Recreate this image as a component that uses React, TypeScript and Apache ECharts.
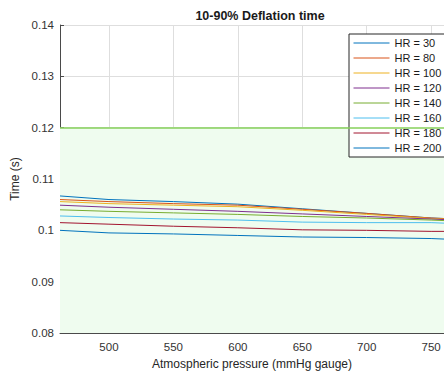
import React, { useEffect, useRef } from "react";
import * as echarts from "echarts";

// Atmospheric pressure samples (mmHg gauge)
const pressure = [462, 500, 550, 600, 650, 700, 750, 760];

// 10-90% deflation time (s) per heart rate
const hr30 = [0.1067, 0.106, 0.1056, 0.1051, 0.1042, 0.1033, 0.1024, 0.1023];
const hr80 = [0.106, 0.1056, 0.1052, 0.1049, 0.1041, 0.1033, 0.1024, 0.1023];
const hr100 = [0.1056, 0.1052, 0.1049, 0.1046, 0.1039, 0.1031, 0.1023, 0.1022];
const hr120 = [0.1049, 0.1045, 0.1041, 0.1037, 0.1032, 0.1027, 0.1022, 0.1021];
const hr140 = [0.104, 0.1037, 0.1034, 0.1031, 0.1027, 0.1024, 0.102, 0.1019];
const hr160 = [0.1028, 0.1025, 0.1022, 0.102, 0.1016, 0.1015, 0.1015, 0.1014];
const hr180 = [0.1015, 0.1012, 0.1008, 0.1005, 0.1001, 0.1, 0.0998, 0.0998];
const hr200 = [0.1, 0.0995, 0.0993, 0.099, 0.0987, 0.0986, 0.0984, 0.0983];

const seriesNames = ["HR = 30", "HR = 80", "HR = 100", "HR = 120", "HR = 140", "HR = 160", "HR = 180", "HR = 200"];
const seriesValues = [hr30, hr80, hr100, hr120, hr140, hr160, hr180, hr200];
const seriesColors = ["#0072BD", "#D95319", "#EDB120", "#7E2F8E", "#77AC30", "#4DBEEE", "#A2142F", "#0072BD"];

// Acceptable band limit
const limit = 0.12;
const yMin = 0.08;
const yMax = 0.14;

const FONT = "'Liberation Sans', Arial, Helvetica, sans-serif";

export default function App() {
  const ref = useRef<HTMLDivElement>(null);

  useEffect(() => {
    if (!ref.current) return;
    const chart = echarts.init(ref.current, null, { renderer: "svg" });

    const lines = seriesNames.map((name, i) => ({
      name,
      type: "line",
      data: pressure.map((p, j) => [p, seriesValues[i][j]]),
      symbol: "none",
      lineStyle: { width: 1, color: seriesColors[i] },
      itemStyle: { color: seriesColors[i] },
      z: 3,
    }));

    const band = {
      name: "band",
      type: "line",
      data: [],
      silent: true,
      z: 1,
      markArea: {
        silent: true,
        itemStyle: { color: "#effcef" },
        data: [[{ yAxis: yMin }, { yAxis: limit }]],
      },
      markLine: {
        silent: true,
        symbol: "none",
        label: { show: false },
        lineStyle: { color: "#86d05a", width: 1.5, type: "solid" },
        data: [{ yAxis: limit }],
      },
    };

    chart.setOption({
      animation: false,
      textStyle: { fontFamily: FONT },
      title: {
        text: "10-90% Deflation time",
        left: 255,
        top: 4,
        textAlign: "center",
        textStyle: { fontSize: 12.5, fontWeight: "bold", color: "#1a1a1a", fontFamily: FONT },
      },
      grid: { left: 60, top: 25, width: 391, height: 308 },
      legend: {
        data: seriesNames,
        orient: "vertical",
        left: 349,
        top: 34,
        itemWidth: 36,
        itemHeight: 12,
        itemGap: 3,
        padding: [3, 4, 3, 4],
        backgroundColor: "#ffffff",
        borderColor: "#262626",
        borderWidth: 1,
        borderRadius: 0,
        itemStyle: { opacity: 0 },
        lineStyle: { width: 1 },
        textStyle: { fontSize: 11, color: "#1a1a1a", fontFamily: FONT, lineHeight: 12 },
      },
      xAxis: {
        type: "value",
        min: 462,
        max: 760,
        splitNumber: 6,
        name: "Atmospheric pressure (mmHg gauge)",
        nameLocation: "middle",
        nameGap: 24,
        nameTextStyle: { fontSize: 12, color: "#262626", fontFamily: FONT },
        axisLine: { show: true, lineStyle: { color: "#4a4a4a", width: 1 } },
        axisTick: { show: true, inside: true, length: 4, lineStyle: { color: "#4a4a4a" } },
        axisLabel: {
          showMinLabel: false,
          showMaxLabel: false,
          fontSize: 11.5,
          color: "#333333",
          margin: 8,
          fontFamily: FONT,
        },
        splitLine: { show: true, lineStyle: { color: "#dedede", width: 1 } },
      },
      yAxis: {
        type: "value",
        min: yMin,
        max: yMax,
        interval: 0.01,
        name: "Time (s)",
        nameLocation: "middle",
        nameRotate: 90,
        nameGap: 28,
        nameTextStyle: { fontSize: 12, color: "#262626", fontFamily: FONT },
        axisLine: { show: true, lineStyle: { color: "#4a4a4a", width: 1 } },
        axisTick: { show: true, inside: true, length: 4, lineStyle: { color: "#4a4a4a" } },
        axisLabel: {
          fontSize: 11.5,
          color: "#333333",
          margin: 6,
          fontFamily: FONT,
          formatter: (v: number) => String(Number(v.toFixed(2))),
        },
        splitLine: { show: true, lineStyle: { color: "#dedede", width: 1 } },
      },
      series: [band, ...lines],
    });

    return () => chart.dispose();
  }, []);

  return (
    <div
      ref={ref}
      style={{ position: "absolute", left: 0, top: 0, width: 444, height: 376, background: "#ffffff" }}
    />
  );
}
